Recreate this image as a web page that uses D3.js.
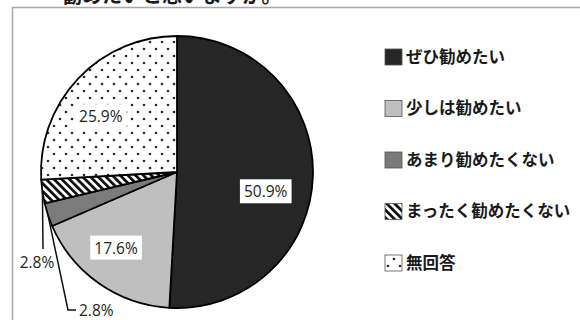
<!DOCTYPE html>
<html>
<head>
<meta charset="utf-8">
<script src="https://cdn.jsdelivr.net/npm/d3@7"></script>
<style>
  html, body { margin: 0; padding: 0; background: #fff; }
  svg { display: block; }
</style>
</head>
<body>
<svg id="chart" width="580" height="320"></svg>
<script>
// Survey answers: would you recommend it?
const categories = ["ぜひ勧めたい", "少しは勧めたい", "あまり勧めたくない", "まったく勧めたくない", "無回答"];
const values = [50.9, 17.6, 2.8, 2.8, 25.9];
const titleText = "勧めたいと思いますか。";

// Fill for each answer: solid greys, a diagonal hatch and a dotted fill
const fills = ["#262626", "#bfbfbf", "#7b7b7b", "url(#hatch)", "url(#dots)"];

const W = 580, H = 320;
const cx = 177, cy = 172, R = 136;

const svg = d3.select("#chart");
const defs = svg.append("defs");

// diagonal stripes running top-left to bottom-right
const hatch = defs.append("pattern")
  .attr("id", "hatch").attr("patternUnits", "userSpaceOnUse")
  .attr("width", 5.5).attr("height", 5.5)
  .attr("patternTransform", "rotate(-45)");
hatch.append("rect").attr("width", 5.5).attr("height", 5.5).attr("fill", "#fff");
hatch.append("rect").attr("x", 0).attr("width", 2.8).attr("height", 5.5).attr("fill", "#111");

// staggered dot grid
const dots = defs.append("pattern")
  .attr("id", "dots").attr("patternUnits", "userSpaceOnUse")
  .attr("width", 12).attr("height", 14);
dots.append("rect").attr("width", 12).attr("height", 14).attr("fill", "#fff");
dots.append("circle").attr("cx", 3).attr("cy", 3).attr("r", 1.3).attr("fill", "#2a2a2a");
dots.append("circle").attr("cx", 9).attr("cy", 10).attr("r", 1.3).attr("fill", "#2a2a2a");

// title line above the frame (partly out of view)
svg.append("text")
  .attr("x", 62).attr("y", 3)
  .attr("font-family", "'Noto Sans CJK JP', sans-serif")
  .attr("font-size", 20).attr("font-weight", 700)
  .attr("fill", "#1a1a1a")
  .text(titleText);

// chart frame
svg.append("rect")
  .attr("x", 12.5).attr("y", 7.5)
  .attr("width", W).attr("height", H)
  .attr("fill", "#fff")
  .attr("stroke", "#a8a8a8").attr("stroke-width", 1.5);

// pie
const pie = d3.pie().sort(null).value(d => d);
const arcs = pie(values);
const arc = d3.arc().innerRadius(0).outerRadius(R);

const g = svg.append("g").attr("transform", `translate(${cx},${cy})`);
g.selectAll("path.slice")
  .data(arcs)
  .join("path")
  .attr("class", "slice")
  .attr("d", arc)
  .attr("fill", (d, i) => fills[i])
  .attr("stroke", "#000")
  .attr("stroke-width", 1.8)
  .attr("stroke-linejoin", "round");

const fmt = v => v.toFixed(1) + "%";
const labelFont = "'Open Sans', 'Noto Sans', sans-serif";

// in-slice labels on white boxes: centroid at 0.7R plus a small nudge
const labelArc = d3.arc().innerRadius(R * 0.7).outerRadius(R * 0.7);
const inside = [
  { i: 0, dx: -6.5, dy: 17 },
  { i: 1, dx: -6.5, dy: -2 },
  { i: 4, dx: -7, dy: 10 }
];
inside.forEach(o => {
  const [x, y] = labelArc.centroid(arcs[o.i]);
  const lg = g.append("g").attr("transform", `translate(${x + o.dx},${y + o.dy})`);
  const t = lg.append("text")
    .attr("text-anchor", "middle").attr("dy", "0.36em")
    .attr("font-family", labelFont).attr("font-size", 15.5)
    .attr("fill", "#1e1e1e")
    .text(fmt(values[o.i]));
  const bb = t.node().getBBox();
  lg.insert("rect", "text")
    .attr("x", bb.x - 4).attr("y", bb.y - 1)
    .attr("width", bb.width + 8).attr("height", bb.height + 2)
    .attr("fill", "#fff");
});

// outside labels with leader lines for the two small slices
const edge = d3.arc().innerRadius(R).outerRadius(R);
const outside = [
  { i: 3, path: a => [a, [a[0] + 0.6, 77]], tx: -140, ty: 90, anchor: "middle" },
  { i: 2, path: a => [a, [-109, 138], [-101, 138]], tx: -98, ty: 138, anchor: "start" }
];
outside.forEach(o => {
  const start = edge.centroid(arcs[o.i]);
  g.append("path")
    .attr("d", d3.line()(o.path(start)))
    .attr("fill", "none").attr("stroke", "#111").attr("stroke-width", 1.5);
  g.append("text")
    .attr("x", o.tx).attr("y", o.ty).attr("dy", "0.36em")
    .attr("text-anchor", o.anchor)
    .attr("font-family", labelFont).attr("font-size", 15.5)
    .attr("fill", "#1e1e1e")
    .text(fmt(values[o.i]));
});

// legend
const legend = svg.append("g").attr("transform", "translate(385,57)");
const item = legend.selectAll("g.item")
  .data(categories)
  .join("g")
  .attr("class", "item")
  .attr("transform", (d, i) => `translate(0,${i * 51.5})`);
item.append("rect")
  .attr("x", 0).attr("y", -8)
  .attr("width", 17).attr("height", 16)
  .attr("fill", (d, i) => fills[i])
  .attr("stroke", "#555").attr("stroke-width", 0.8);
item.append("text")
  .attr("x", 21).attr("dy", "0.36em")
  .attr("font-family", "'Noto Sans CJK JP', sans-serif")
  .attr("font-size", 16.5).attr("font-weight", 700)
  .attr("fill", "#1a1a1a")
  .text(d => d);
</script>
</body>
</html>
